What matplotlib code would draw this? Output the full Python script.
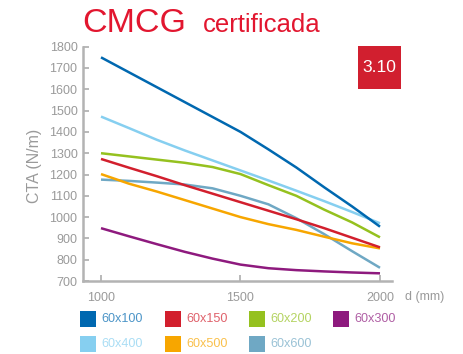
import matplotlib
matplotlib.use("Agg")
import matplotlib.pyplot as plt
from matplotlib.patches import Rectangle

plt.rcParams['font.family'] = ['Liberation Sans', 'DejaVu Sans']

# distance between supports (mm)
d = [1000, 1100, 1200, 1300, 1400, 1500, 1600, 1700, 1800, 1900, 2000]

# CTA (N/m) per profile
cta_60x100 = [1750, 1680, 1610, 1540, 1470, 1400, 1318, 1233, 1140, 1050, 955]
cta_60x150 = [1273, 1232, 1192, 1150, 1110, 1070, 1030, 990, 948, 903, 858]
cta_60x200 = [1300, 1285, 1270, 1255, 1235, 1202, 1150, 1100, 1035, 975, 905]
cta_60x300 = [948, 910, 873, 837, 805, 777, 760, 751, 745, 740, 736]
cta_60x400 = [1472, 1418, 1363, 1313, 1266, 1219, 1172, 1124, 1075, 1024, 971]
cta_60x500 = [1202, 1157, 1120, 1080, 1040, 1000, 967, 940, 908, 877, 853]
cta_60x600 = [1176, 1170, 1162, 1153, 1135, 1100, 1060, 995, 920, 840, 762]

labels = ['60x100', '60x150', '60x200', '60x300', '60x400', '60x500', '60x600']
colors = ['#0068b0', '#d21f2d', '#95c11f', '#8e1a7e', '#86cff0', '#f7a600', '#6fa8c4']
series = [cta_60x100, cta_60x150, cta_60x200, cta_60x300, cta_60x400, cta_60x500, cta_60x600]

yticks = [700, 800, 900, 1000, 1100, 1200, 1300, 1400, 1500, 1600, 1700, 1800]
xticks = [1000, 1500, 2000]

W, H = 464, 354
fig = plt.figure(figsize=(W / 100, H / 100), dpi=100)
ax = fig.add_axes([83 / W, 73 / H, 309 / W, 234.3 / H])

# draw lines in reverse order so the first profiles end up on top
for vals, col in reversed(list(zip(series, colors))):
    ax.plot(d, vals, color=col, lw=1.8, solid_capstyle='butt', solid_joinstyle='round')

ax.set_xlim(935.5, 2043)
ax.set_ylim(700, 1800)
ax.set_yticks(yticks)
ax.set_xticks(xticks)
for s in ['top', 'right']:
    ax.spines[s].set_visible(False)
for s in ['left', 'bottom']:
    ax.spines[s].set_color('#b3b3b3')
    ax.spines[s].set_linewidth(1.8)
ax.tick_params(axis='both', direction='in', length=4.5, width=1.3, color='#b3b3b3',
               labelcolor='#9a9a9a', labelsize=9)
ax.tick_params(axis='y', pad=4)
ax.tick_params(axis='x', pad=8)
ax.patch.set_alpha(0)

def fx(px):
    return px / W

def fy(py):
    return (H - py) / H

# heading
red = '#e2162f'
fig.text(fx(82), fy(31.7), 'CMCG', color=red, fontsize=24.5, va='baseline')
fig.text(fx(203), fy(31.7), 'certificada', color=red, fontsize=18.5, va='baseline')

# badge
fig.patches.append(Rectangle((fx(358), fy(89)), 43 / W, 43 / H, transform=fig.transFigure,
                             facecolor='#d11f2f', edgecolor='none'))
fig.text(fx(379.5), fy(67.5), '3.10', color='white', fontsize=12.6, ha='center', va='center')

# axis titles
fig.text(fx(34.5), fy(166), 'CTA (N/m)', color='#9a9a9a', fontsize=11.5, rotation=90,
         ha='center', va='center')
fig.text(fx(405), fy(297), 'd (mm)', color='#9a9a9a', fontsize=9, va='center')

# legend
leg_x = [80, 165, 249, 333]
leg_y = [311, 335.7]
for i, (lab, col) in enumerate(zip(labels, colors)):
    x0 = leg_x[i % 4]
    y0 = leg_y[i // 4]
    fig.patches.append(Rectangle((fx(x0), fy(y0 + 16)), 16 / W, 16 / H,
                                 transform=fig.transFigure, facecolor=col, edgecolor='none'))
    fig.text(fx(x0 + 21.5), fy(y0 + 8.5), lab, color=col, alpha=0.7, fontsize=9.1, va='center')

fig.savefig('out.png', dpi=100)
